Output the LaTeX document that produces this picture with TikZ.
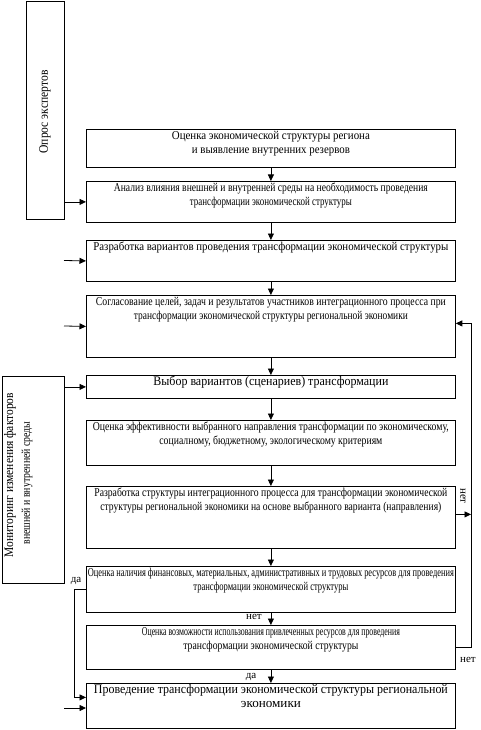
\documentclass[tikz,border=0pt]{standalone}
\usepackage{fontspec}
\setmainfont{Liberation Serif}
\usetikzlibrary{arrows.meta}
\newcommand{\sline}[2]{\resizebox{#1pt}{\height}{#2}}
\newcommand{\bxt}[3][12]{\parbox[t][#2pt][t]{369pt}{\centering\fontsize{#1}{14}\selectfont\rule{0pt}{9.75pt}#3}}
\begin{document}
\begin{tikzpicture}[x=1pt,y=-1pt,
  box/.style={draw, line width=0.8pt, inner sep=0pt, anchor=north west},
  arr/.style={line width=0.8pt, -{Triangle[length=6.5pt,width=6pt]}},
  lbl/.style={font=\fontsize{11}{12}\selectfont, inner sep=0pt}]
\useasboundingbox (0,0) rectangle (481,730);

% left side boxes
\node[box, minimum width=38pt, minimum height=218pt] (op) at (26,1) {};
\node[rotate=90, inner sep=0pt, font=\fontsize{13}{15}\selectfont] (opt) at (45,112) {\sline{83}{Опрос экспертов}};
\node[box, minimum width=62pt, minimum height=207pt] (mon) at (2,376) {};
\node[rotate=90, inner sep=0pt, font=\fontsize{13}{15}\selectfont] (mon1) at (10,475) {\sline{164}{Мониторинг изменения факторов}};
\node[rotate=90, inner sep=0pt, font=\fontsize{12}{14}\selectfont] (mon2) at (27,483) {\sline{123}{внешней и внутренней среды}};

% main chain
\node[box] (b1) at (86,129) {\bxt{38}{\sline{198}{Оценка экономической структуры региона}\\\sline{158}{и выявление внутренних резервов}}};
\node[box] (b2) at (86,181) {\bxt{41}{\sline{314}{Анализ влияния внешней и внутренней среды на необходимость проведения}\\\sline{162}{трансформации экономической структуры}}};
\node[box] (b3) at (86,240) {\bxt{41}{\sline{355}{Разработка вариантов проведения трансформации экономической структуры}}};
\node[box] (b4) at (86,295) {\bxt{62}{\sline{350}{Согласование целей, задач и результатов участников интеграционного процесса при}\\\sline{274}{трансформации экономической структуры региональной экономики}}};
\node[box] (b5) at (86,375) {\bxt[13]{23}{\sline{235}{Выбор вариантов (сценариев) трансформации}}};
\node[box] (b6) at (86,420) {\bxt{45}{\sline{356}{Оценка эффективности выбранного направления трансформации по экономическому,}\\\sline{223}{социалному, бюджетному, экологическому критериям}}};
\node[box] (b7) at (86,486) {\bxt{62}{\sline{353}{Разработка структуры интеграционного процесса для трансформации экономической}\\\sline{341}{структуры региональной экономики на основе выбранного варианта (направления)}}};
\node[box] (b8) at (86,566) {\bxt{46}{\sline{366}{Оценка наличия финансовых, материальных, административных и трудовых ресурсов для проведения}\\\sline{155}{трансформации экономической структуры}}};
\node[box] (b9) at (86,625) {\bxt{44}{\sline{258}{Оценка возможности использования привлеченных ресурсов для проведения}\\\sline{175}{трансформации экономической структуры}}};
\node[box] (b10) at (86,683) {\bxt[13]{45}{\sline{354}{Проведение трансформации экономической структуры региональной}\\\sline{60}{экономики}}};

% vertical arrows
\foreach \a/\b in {b1/b2,b2/b3,b3/b4,b4/b5,b5/b6,b6/b7,b7/b8,b8/b9,b9/b10}
  \draw[arr] (\a.south) -- (\b.north);

% inputs from the left
\draw[arr] (op.east |- b2.west) -- (b2.west);
\coordinate (in3) at (64,260.5);
\draw[arr] (in3) -- (b3.west);
\coordinate (in4) at (64,326);
\draw[arr] (in4) -- (b4.west);
\draw[arr] (mon.east |- b5.west) -- (b5.west);
\draw[arr] (b8.west) -- ++(-12,0) |- ([yshift=8.5pt]b10.west);
\coordinate (in10) at (64,708);
\draw[arr] (in10) -- (in10 -| b10.west);

% feedback on the right
\coordinate (fb) at (471,0);
\draw[arr] (b9.east) -- (b9.east -| fb) |- ([yshift=3pt]b4.east);
\draw[arr] ([yshift=3pt]b7.east) -- ([yshift=3pt]b7.east -| fb);

% labels
\node[lbl] (l1) at (76,581) {да};
\node[lbl] (l2) at (254,617) {нет};
\node[lbl] (l3) at (251,677) {да};
\node[lbl] (l4) at (468,660) {нет};
\node[lbl, rotate=-90] (l5) at (463,496) {нет};
\end{tikzpicture}
\end{document}
